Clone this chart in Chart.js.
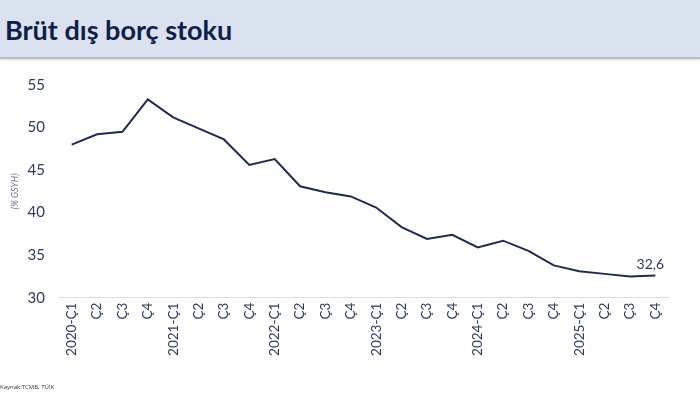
<!DOCTYPE html>
<html>
<head>
<meta charset="utf-8">
<script src="https://cdn.jsdelivr.net/npm/chart.js@4"></script>
<style>
  html,body{margin:0;padding:0;background:#fff;width:700px;height:393px;overflow:hidden;font-family:Lato,"Open Sans",sans-serif;}
  #band{position:absolute;left:0;top:0;width:700px;height:57px;background:#dae2ef;border-bottom:2px solid #b9bfca;box-shadow:0 1px 2px rgba(0,0,0,0.15);}
  #title{position:absolute;left:5px;top:13px;font-family:Lato,sans-serif;font-weight:bold;font-size:27px;color:#0f1e4a;letter-spacing:0px;}
  #wrap{position:absolute;left:0;top:58px;width:700px;height:335px;}
  #src{position:absolute;left:0;top:383px;font-size:6px;color:#334;font-family:"Open Sans",sans-serif;}
</style>
</head>
<body>
<div id="band"><div id="title">Brüt dış borç stoku</div></div>
<div id="wrap"><canvas id="c" width="700" height="335"></canvas></div>
<div id="src">Kaynak:TCMB, TÜİK</div>
<script>
const categories = ["2020-Ç1","Ç2","Ç3","Ç4","2021-Ç1","Ç2","Ç3","Ç4","2022-Ç1","Ç2","Ç3","Ç4","2023-Ç1","Ç2","Ç3","Ç4","2024-Ç1","Ç2","Ç3","Ç4","2025-Ç1","Ç2","Ç3","Ç4"];
const values = [48.0,49.2,49.5,53.3,51.2,49.9,48.6,45.6,46.3,43.1,42.4,41.9,40.6,38.3,36.9,37.4,35.9,36.7,35.5,33.8,33.1,32.8,32.5,32.6];
const lastLabel = "32,6";
const yTitle = "(% GSYH)";

const textColor = "#2e3a5c";
const lineColor = "#1f2b4d";

const lastLabelPlugin = {
  id: "lastLabel",
  afterDatasetsDraw(chart) {
    const meta = chart.getDatasetMeta(0);
    const p = meta.data[meta.data.length - 1];
    const ctx = chart.ctx;
    ctx.save();
    ctx.font = "14px Lato, sans-serif";
    ctx.fillStyle = textColor;
    ctx.textAlign = "center";
    ctx.textBaseline = "bottom";
    ctx.fillText(lastLabel, p.x - 5, p.y - 4);
    ctx.restore();
  }
};

new Chart(document.getElementById("c"), {
  type: "line",
  data: {
    labels: categories,
    datasets: [{
      data: values,
      borderColor: lineColor,
      borderWidth: 2,
      pointRadius: 0,
      tension: 0,
      fill: false
    }]
  },
  options: {
    responsive: false,
    animation: false,
    devicePixelRatio: 1,
    layout: { padding: { left: 0, right: 32, top: 27, bottom: 0 } },
    plugins: { legend: { display: false }, tooltip: { enabled: false } },
    scales: {
      x: {
        offset: true,
        grid: { display: false, drawTicks: false },
        border: { display: true, color: "#dcdcdc", width: 1 },
        ticks: {
          minRotation: 90, maxRotation: 90, autoSkip: false, padding: 5,
          color: textColor,
          font: { family: "Lato, sans-serif", size: 13.5 }
        },
        afterFit(scale) { scale.height = 95.3; }
      },
      y: {
        min: 30, max: 55,
        grid: { display: false, drawTicks: false },
        border: { display: false },
        ticks: {
          stepSize: 5, padding: 14,
          color: textColor,
          font: { family: "Lato, sans-serif", size: 15 }
        },
        title: {
          display: true, text: yTitle,
          color: "#6a7390",
          font: { family: "Lato, sans-serif", size: 9, style: "italic" },
          padding: { top: 10, bottom: 0 }
        },
        afterFit(scale) { scale.width = 59; }
      }
    }
  },
  plugins: [lastLabelPlugin]
});
</script>
</body>
</html>
